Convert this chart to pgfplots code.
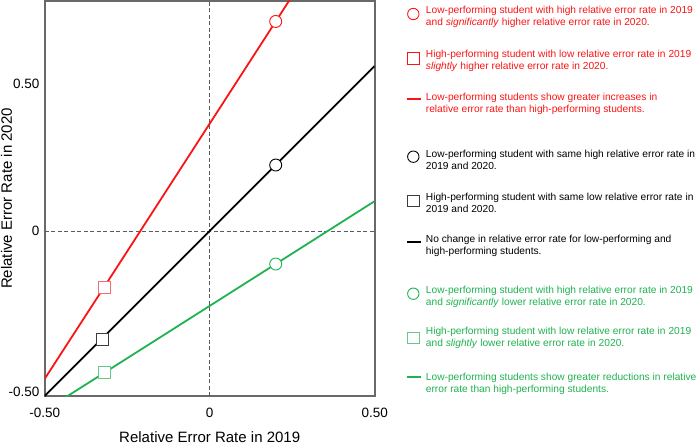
\documentclass[border=0pt]{standalone}
\usepackage{pgfplots}
\pgfplotsset{compat=1.18}
\usepackage{fontspec}
\setmainfont{Liberation Sans}

\definecolor{cred}{RGB}{250,20,20}
\definecolor{credlight}{RGB}{242,110,110}
\definecolor{cgreen}{RGB}{30,178,80}
\definecolor{cgreenlight}{RGB}{105,200,135}
\definecolor{cgraysq}{RGB}{60,60,60}
\definecolor{cframe}{RGB}{105,105,105}
\definecolor{cdash}{RGB}{90,90,90}

% one line of legend text, baseline at pixel row #2
\newcommand{\legtxt}[3]{\node[anchor=base west, inner sep=0pt, text=#1,
  font=\fontsize{10.2}{12.5}\selectfont] at (axis cs:425.7,#2) {#3};}

\begin{document}
\begin{tikzpicture}
\useasboundingbox (0,0) rectangle (700pt,444pt);

% main chart
\begin{axis}[at={(44.7pt,48pt)}, anchor=south west,
  scale only axis, width=330pt, height=395pt,
  xmin=-0.5, xmax=0.5, ymin=-0.5, ymax=0.697,
  xtick={-0.5,0,0.5}, xticklabels={-0.50,0,0.50},
  ytick={-0.487,0,0.447}, yticklabels={-0.50,0,0.50},
  major tick length=0pt, tick style={draw=none},
  axis line style={cframe, line width=1.6pt},
  tick label style={font=\fontsize{13.5}{16}\selectfont, inner sep=0pt},
  xticklabel style={anchor=north, yshift=-12pt},
  yticklabel style={anchor=east, xshift=-5pt},
  xlabel={Relative Error Rate in 2019},
  ylabel={Relative Error Rate in 2020},
  label style={font=\fontsize{15}{18}\selectfont},
  xlabel style={at={(axis description cs:0.5,-0.1038)}, anchor=center},
  ylabel style={at={(axis description cs:-0.1158,0.5)}, anchor=center},
  clip=true]

  % reference lines
  \addplot[cdash, line width=0.8pt, dash pattern=on 4pt off 2.5pt] coordinates {(0,-0.5) (0,0.697)};
  \addplot[cdash, line width=0.8pt, dash pattern=on 4pt off 2.5pt] coordinates {(-0.5,0) (0.5,0)};

  % trend lines
  \addplot[cred, line width=1.8pt] coordinates {(-0.5,-0.448) (-0.32,-0.17) (0.2,0.635) (0.26,0.728)};
  \addplot[black, line width=1.8pt] coordinates {(-0.5,-0.5) (0.5,0.5)};
  \addplot[cgreen, line width=1.8pt] coordinates {(-0.5,-0.544) (-0.32,-0.43) (0.2,-0.1) (0.5,0.0905)};

  % students
  \addplot[only marks, mark=square*, mark size=6pt, mark options={draw=credlight, fill=white, line width=0.9pt}] coordinates {(-0.32,-0.17)};
  \addplot[only marks, mark=*, mark size=6pt, mark options={draw=cred, fill=white, line width=0.9pt}] coordinates {(0.2,0.635)};
  \addplot[only marks, mark=square*, mark size=6pt, mark options={draw=cgraysq, fill=white, line width=0.9pt}] coordinates {(-0.325,-0.33)};
  \addplot[only marks, mark=*, mark size=6pt, mark options={draw=black, fill=white, line width=0.9pt}] coordinates {(0.2,0.2)};
  \addplot[only marks, mark=square*, mark size=6pt, mark options={draw=cgreenlight, fill=white, line width=0.9pt}] coordinates {(-0.32,-0.43)};
  \addplot[only marks, mark=*, mark size=6pt, mark options={draw=cgreen, fill=white, line width=0.9pt}] coordinates {(0.2,-0.1)};
\end{axis}

% legend, in pixel units of the picture
\begin{axis}[at={(0pt,0pt)}, anchor=south west,
  scale only axis, width=700pt, height=444pt,
  xmin=0, xmax=700, ymin=0, ymax=444, y dir=reverse,
  hide axis, clip=false]

  \addplot[only marks, mark=o, mark size=5.7pt, mark options={cred, line width=0.9pt}] coordinates {(413.3,14)};
  \addplot[only marks, mark=square, mark size=5.7pt, mark options={cred, line width=0.9pt}] coordinates {(413.3,58.3)};
  \addplot[cred, line width=2pt] coordinates {(406.7,99) (420.7,99)};

  \addplot[only marks, mark=o, mark size=5.7pt, mark options={black, line width=0.9pt}] coordinates {(413.3,156.7)};
  \addplot[only marks, mark=square, mark size=5.7pt, mark options={cgraysq, line width=0.9pt}] coordinates {(413.3,201)};
  \addplot[black, line width=2pt] coordinates {(406.7,242) (420.7,242)};

  \addplot[only marks, mark=o, mark size=5.7pt, mark options={cgreen, line width=0.9pt}] coordinates {(413.3,293.7)};
  \addplot[only marks, mark=square, mark size=5.7pt, mark options={cgreenlight, line width=0.9pt}] coordinates {(413.3,337.7)};
  \addplot[cgreen, line width=2pt] coordinates {(406.7,377) (420.7,377)};

  \legtxt{cred}{14.0}{Low-performing student with high relative error rate in 2019}
  \legtxt{cred}{26.0}{and \textit{significantly} higher relative error rate in 2020.}
  \legtxt{cred}{57.6}{High-performing student with low relative error rate in 2019}
  \legtxt{cred}{70.0}{\textit{slightly} higher relative error rate in 2020.}
  \legtxt{cred}{100.0}{Low-performing students show greater increases in}
  \legtxt{cred}{112.3}{relative error rate than high-performing students.}

  \legtxt{black}{157.3}{Low-performing student with same high relative error rate in}
  \legtxt{black}{169.3}{2019 and 2020.}
  \legtxt{black}{200.6}{High-performing student with same low relative error rate in}
  \legtxt{black}{212.6}{2019 and 2020.}
  \legtxt{black}{242.0}{No change in relative error rate for low-performing and}
  \legtxt{black}{254.6}{high-performing students.}

  \legtxt{cgreen}{293.6}{Low-performing student with high relative error rate in 2019}
  \legtxt{cgreen}{305.3}{and \textit{significantly} lower relative error rate in 2020.}
  \legtxt{cgreen}{334.6}{High-performing student with low relative error rate in 2019}
  \legtxt{cgreen}{346.3}{and \textit{slightly} lower relative error rate in 2020.}
  \legtxt{cgreen}{380.3}{Low-performing students show greater reductions in relative}
  \legtxt{cgreen}{392.0}{error rate than high-performing students.}
\end{axis}
\end{tikzpicture}
\end{document}
